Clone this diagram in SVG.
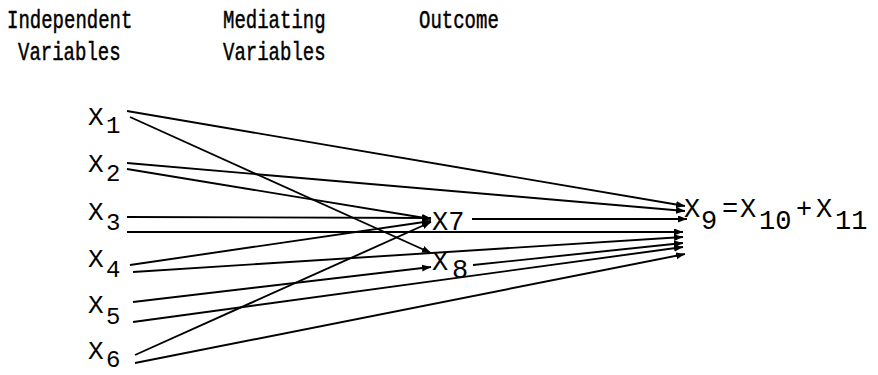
<svg xmlns="http://www.w3.org/2000/svg" width="878" height="375" viewBox="0 0 878 375">
<defs>
<style>
.h{font-family:"Liberation Mono","DejaVu Sans Mono",monospace;font-size:19px;fill:#000;stroke:#000;stroke-width:0.35}
.v{font-family:"Liberation Mono","DejaVu Sans Mono",monospace;font-size:26px;fill:#000}
.s{font-family:"Liberation Mono","DejaVu Sans Mono",monospace;font-size:24px;fill:#000}
.e{font-family:"Liberation Mono","DejaVu Sans Mono",monospace;font-size:27px;fill:#000}
.c line{stroke:#000;stroke-width:1.9;fill:none;marker-end:url(#ah)}
</style>
<marker id="ah" markerUnits="userSpaceOnUse" markerWidth="10" markerHeight="8" refX="9" refY="3.5" orient="auto">
<path d="M0,0 L9,3.5 L0,7 z" fill="#000"/>
</marker>
</defs>
<rect width="878" height="375" fill="#fff"/>
<g id="headers">
<text class="h" transform="translate(7,28) scale(1,1.4)">Independent</text>
<text class="h" transform="translate(18,60) scale(1,1.4)">Variables</text>
<text class="h" transform="translate(223,28) scale(1,1.4)">Mediating</text>
<text class="h" transform="translate(223,60) scale(1,1.4)">Variables</text>
<text class="h" transform="translate(419,28) scale(1,1.4)">Outcome</text>
</g>
<g class="c" id="connectors">
<line x1="127" y1="111" x2="685" y2="206"/>
<line x1="130" y1="117" x2="431" y2="253"/>
<line x1="127" y1="163" x2="685" y2="211"/>
<line x1="127" y1="169" x2="431" y2="219"/>
<line x1="127" y1="217" x2="431" y2="218"/>
<line x1="127" y1="232" x2="683" y2="232"/>
<line x1="130" y1="265" x2="431" y2="221"/>
<line x1="133" y1="272" x2="683" y2="237"/>
<line x1="133" y1="302" x2="431" y2="267"/>
<line x1="133" y1="322" x2="683" y2="247"/>
<line x1="135" y1="355" x2="431" y2="222"/>
<line x1="135" y1="363" x2="685" y2="254"/>
<line x1="472" y1="219" x2="687" y2="219"/>
<line x1="473" y1="265" x2="683" y2="243"/>
</g>
<g id="x1"><text class="v" x="88" y="125">X</text><text class="s" x="106" y="133">1</text></g>
<g id="x2"><text class="v" x="88" y="172">X</text><text class="s" x="106" y="181">2</text></g>
<g id="x3"><text class="v" x="88" y="220">X</text><text class="s" x="106" y="230">3</text></g>
<g id="x4"><text class="v" x="88" y="267">X</text><text class="s" x="106" y="277">4</text></g>
<g id="x5"><text class="v" x="88" y="313">X</text><text class="s" x="106" y="324">5</text></g>
<g id="x6"><text class="v" x="88" y="359">X</text><text class="s" x="106" y="367">6</text></g>
<g id="x7"><text class="e" x="432" y="230">X7</text></g>
<g id="x8"><text class="e" x="432" y="270">X</text><text class="e" x="452" y="278">8</text></g>
<g id="x9"><text class="e"><tspan x="684" y="217">X</tspan><tspan x="701" y="229">9</tspan><tspan x="722" y="217">=</tspan><tspan x="740" y="217">X</tspan><tspan x="759" y="229">10</tspan><tspan x="796" y="217">+</tspan><tspan x="816" y="217">X</tspan><tspan x="835" y="229">11</tspan></text></g>
</svg>
